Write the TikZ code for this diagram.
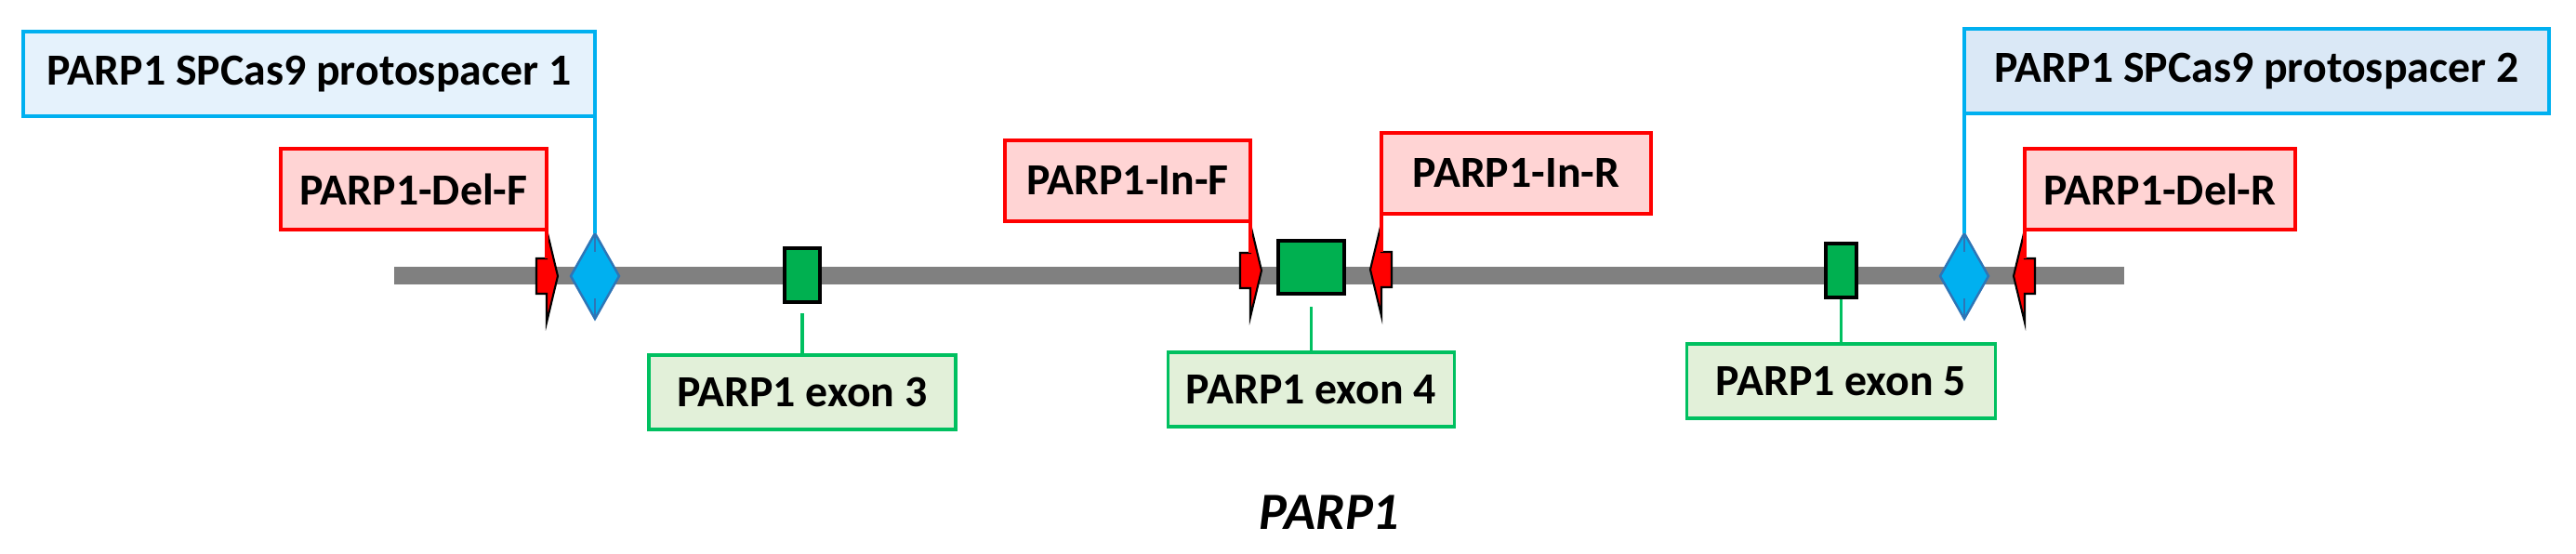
\documentclass[tikz,border=0pt]{standalone}
\usepackage{fontspec}
\setmainfont{Carlito}
\usetikzlibrary{shapes.geometric,positioning}
\definecolor{guideblue}{RGB}{0,176,240}
\definecolor{guidefillA}{RGB}{229,242,252}
\definecolor{guidefillB}{RGB}{218,232,246}
\definecolor{oligored}{RGB}{255,0,0}
\definecolor{oligofill}{RGB}{255,212,212}
\definecolor{exonedge}{RGB}{0,192,96}
\definecolor{exonfill}{RGB}{226,240,217}
\definecolor{exongreen}{RGB}{0,176,80}
\definecolor{cutedge}{RGB}{46,117,182}
\definecolor{backgray}{RGB}{128,128,128}
\tikzset{
  base/.style={font=\fontsize{13.6}{16}\selectfont\bfseries, align=center, inner sep=2pt, outer sep=0mm},
  guide/.style={rectangle, draw=guideblue, line width=1.1pt, minimum height=9.1mm, base},
  oligo/.style={rectangle, draw=oligored, line width=1pt, fill=oligofill, minimum height=8.7mm, base},
  exonlab/.style={rectangle, draw=exonedge, line width=1pt, fill=exonfill, minimum height=8mm, base},
  exon/.style={rectangle, draw=black, line width=1.1pt, fill=exongreen, minimum height=5.8mm, inner sep=0pt},
  cut/.style={diamond, draw=cutedge, line width=0.7pt, fill=guideblue, minimum width=5.2mm, minimum height=9.2mm, inner sep=0pt, outer sep=0pt,
    path picture={\draw[cutedge, line width=0.7pt] (path picture bounding box.north) -- ++(0,-0.2) (path picture bounding box.south) -- ++(0,0.22);}},
  backbone/.style={draw=backgray, line width=5.4pt},
  guideline/.style={draw=guideblue, line width=1pt},
  oligoline/.style={draw=oligored, line width=0.9pt},
  exonline/.style={draw=exonedge, line width=0.9pt},
  primer/.pic={
    \filldraw[fill=oligored, draw=black, line width=0.6pt] (0.12,0) -- (0,0.5) -- (0,0.19) -- (-0.11,0.19) -- (-0.11,-0.19) -- (0,-0.19) -- (0,-0.5) -- cycle;
    \coordinate (-top) at (0,0.19);
  }
}

\begin{document}
\begin{tikzpicture}
  \useasboundingbox (0,0) rectangle (27.71,5.96);

  % gene backbone
  \coordinate (gL) at (4.24,2.99);
  \coordinate (gR) at (22.85,2.99);
  \draw[backbone] (gL) -- (gR);

  % exons
  \node[exon, minimum width=3.8mm] (ex3) at (8.63,3.00) {};
  \node[exon, minimum width=7.1mm, minimum height=5.7mm] (ex4) at (14.105,3.085) {};
  \node[exon, minimum width=3.3mm] (ex5) at (19.805,3.05) {};

  % cut sites
  \node[cut] (dia1) at (6.40,2.99) {};
  \node[cut] (dia2) at (21.13,2.99) {};

  % primers
  \pic (delF) at (5.88,2.99) {primer};
  \pic (inF) at (13.45,3.05) {primer};
  \pic[xscale=-1] (inR) at (14.86,3.06) {primer};
  \pic[xscale=-1] (delR) at (21.78,2.99) {primer};

  % labels
  \node[guide, fill=guidefillA, minimum width=61.5mm, above left=1.26cm and 0cm of dia1.north] (proto1) {PARP1 SPCas9 protospacer 1};
  \node[guide, fill=guidefillB, minimum width=62.9mm, above right=1.29cm and 0cm of dia2.north] (proto2) {PARP1 SPCas9 protospacer 2};
  \node[oligo, minimum width=28.6mm, above left=0.31cm and 0cm of delF-top] (delFlab) {PARP1-Del-F};
  \node[oligo, minimum width=26.4mm, above left=0.34cm and 0cm of inF-top] (inFlab) {PARP1-In-F};
  \node[oligo, minimum width=29mm, above right=0.41cm and 0cm of inR-top] (inRlab) {PARP1-In-R};
  \node[oligo, minimum width=29.1mm, above right=0.31cm and 0cm of delR-top] (delRlab) {PARP1-Del-R};
  \node[exonlab, minimum width=33mm, below=0.55cm of ex3] (ex3lab) {PARP1 exon 3};
  \node[exonlab, minimum width=30.8mm, below=0.61cm of ex4] (ex4lab) {PARP1 exon 4};
  \node[exonlab, minimum width=33.2mm, below=0.48cm of ex5] (ex5lab) {PARP1 exon 5};
  \node[font=\fontsize{16}{19}\selectfont\bfseries\itshape] (gene) at (14.30,0.45) {PARP1};

  % connectors
  \draw[guideline] (proto1.south east) -- (dia1.north);
  \draw[guideline] (proto2.south west) -- (dia2.north);
  \draw[oligoline] (delFlab.south east) -- (delF-top);
  \draw[oligoline] (inFlab.south east) -- (inF-top);
  \draw[oligoline] (inRlab.south west) -- (inR-top);
  \draw[oligoline] (delRlab.south west) -- (delR-top);
  \draw[exonline, shorten >=0.1cm] (ex3lab) -- (ex3);
  \draw[exonline, shorten >=0.12cm] (ex4lab) -- (ex4);
  \draw[exonline] (ex5lab) -- (ex5);
\end{tikzpicture}
\end{document}
